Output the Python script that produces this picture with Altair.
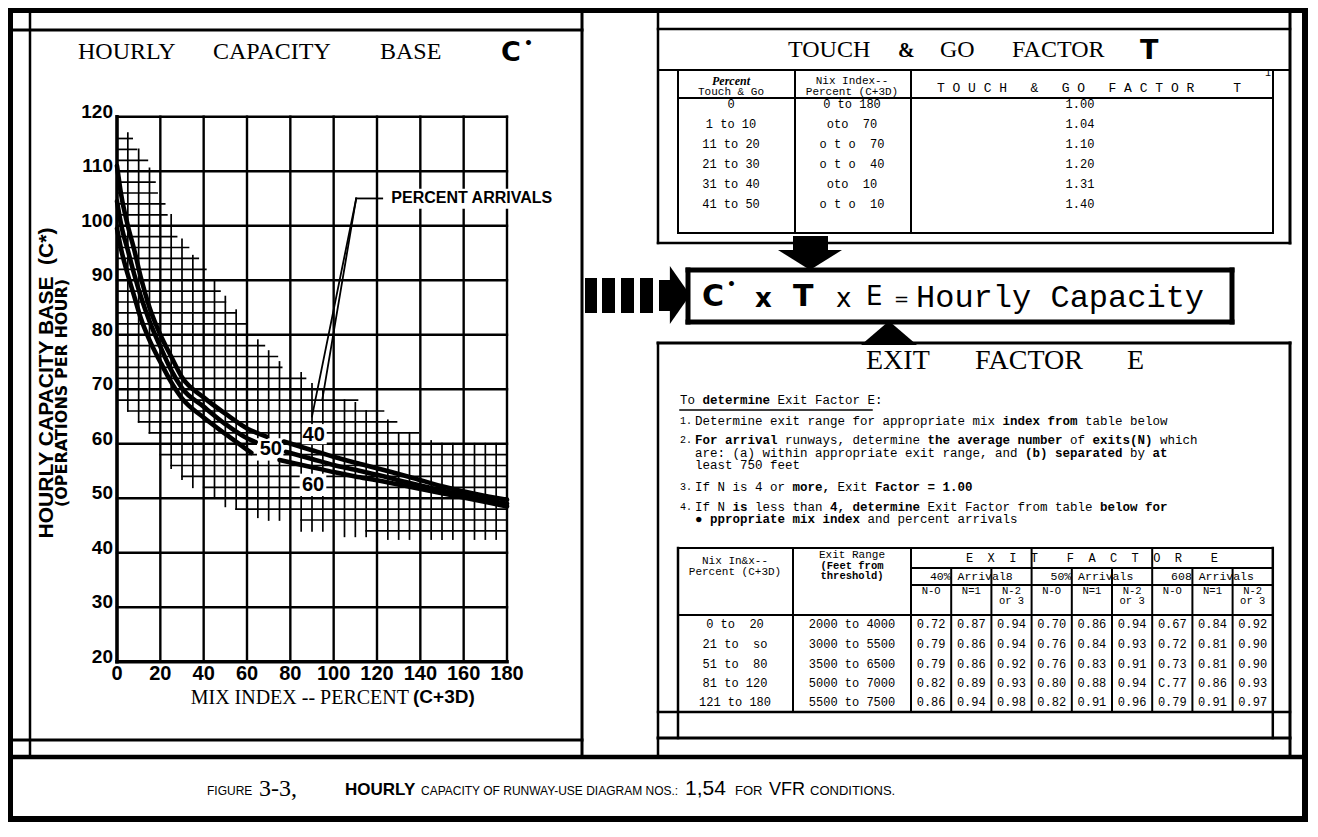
import altair as alt
import pandas as pd

NB = "\u00a0"

# ====================== values ======================
mix_ticks = [0, 20, 40, 60, 80, 100, 120, 140, 160, 180]
cap_ticks = [20, 30, 40, 50, 60, 70, 80, 90, 100, 110, 120]

# percent-arrival curves: hourly capacity base C* against mix index (C+3D)
a40_left_mix = [0, 2, 5, 8, 11, 15, 20, 25, 30, 40, 50, 60, 69]
a40_left_cap = [111, 105.5, 100, 95.5, 90.5, 85, 80, 76, 72.2, 68.5, 65.5, 62.8, 61.3]
a50_left_mix = [0, 2, 5, 8, 11, 15, 20, 25, 30, 40, 50, 60, 64]
a50_left_cap = [104.5, 100, 95.5, 91, 87, 82.5, 77.8, 73.5, 70.2, 66.8, 63.6, 61.0, 60.3]
a60_left_mix = [0, 2, 5, 8, 11, 15, 20, 25, 30, 40, 50, 62]
a60_left_cap = [99.5, 95.5, 91, 87, 83, 79, 75, 71.3, 68.3, 64.8, 61.8, 58.3]
a40_right_mix = [77, 90, 100, 110, 120, 135, 150, 165, 180]
a40_right_cap = [60.4, 58.8, 57.6, 56.5, 55.5, 53.9, 52.2, 50.8, 49.7]
a50_right_mix = [78, 90, 100, 110, 120, 135, 150, 165, 180]
a50_right_cap = [58.5, 57.2, 56.1, 55.2, 54.3, 52.8, 51.4, 50.1, 49.0]
a60_right_mix = [75, 90, 100, 110, 120, 135, 150, 165, 180]
a60_right_cap = [57.0, 55.7, 54.8, 54.0, 53.3, 52.1, 50.9, 49.7, 48.5]

curve_label_text = ["40", "50", "60"]
curve_label_mix = [90.8, 71.0, 90.5]
curve_label_cap = [61.6, 59.0, 52.4]

# cross-hatched band (fine grid: every 2 units of C*, every 5 of mix index)
hatch_row_cap = [116, 114, 112, 108, 106, 104, 102, 98, 96, 94, 92, 88, 86, 84, 82,
                 78, 76, 74, 72, 68, 66, 64, 62, 58, 56, 54, 52, 48, 46, 44]
hatch_row_from = [0, 0, 0, 0, 0, 0, 0, 0, 0, 0, 0, 0, 0, 0, 0,
                  0, 0, 0, 0, 0, 5, 10, 15, 20, 25, 30, 40, 55, 85, 115]
hatch_row_to = [7, 9, 14, 17.5, 18.5, 22, 23, 27.5, 33, 37.5, 41, 47.5, 50, 55, 60,
                68, 74, 76, 87, 111, 123, 129, 139, 180, 180, 180, 180, 180, 180, 180]
hatch_col_mix = [5, 10, 15, 25, 30, 35, 45, 50, 55, 65, 70, 75, 85, 90, 95,
                 105, 110, 115, 125, 130, 135, 145, 150, 155, 165, 170, 175]
hatch_col_high = [117, 114, 110.5, 102, 97.5, 94.5, 90, 87, 84.5, 79, 77, 75, 73, 71, 70,
                  68, 67.5, 66, 64.3, 62, 62, 60.5, 60, 60, 60, 60, 60]
hatch_col_low = [66, 64, 62, 55.5, 53.5, 52, 50, 48.5, 48, 46.5, 46, 46, 44, 44, 44,
                 43, 43, 43, 42.5, 42.5, 42.5, 42.5, 42.5, 42.5, 42.5, 42.5, 42.5]

# touch & go factor table
tg_percent = ["0", "1 to 10", "11 to 20", "21 to 30", "31 to 40", "41 to 50"]
tg_mix_range = ["0 to 180", "oto  70", "o t o  70", "o t o  40", "oto  10", "o t o  10"]
tg_factor = ["1.00", "1.04", "1.10", "1.20", "1.31", "1.40"]

# exit factor table
exit_mix_range = ["0 to  20", "21 to  so", "51 to  80", "81 to 120", "121 to 180"]
exit_feet = ["2000 to 4000", "3000 to 5500", "3500 to 6500", "5000 to 7000", "5500 to 7500"]
ef_40_n0 = ["0.72", "0.79", "0.79", "0.82", "0.86"]
ef_40_n1 = ["0.87", "0.86", "0.86", "0.89", "0.94"]
ef_40_n2 = ["0.94", "0.94", "0.92", "0.93", "0.98"]
ef_50_n0 = ["0.70", "0.76", "0.76", "0.80", "0.82"]
ef_50_n1 = ["0.86", "0.84", "0.83", "0.88", "0.91"]
ef_50_n2 = ["0.94", "0.93", "0.91", "0.94", "0.96"]
ef_60_n0 = ["0.67", "0.72", "0.73", "C.77", "0.79"]
ef_60_n1 = ["0.84", "0.81", "0.81", "0.86", "0.91"]
ef_60_n2 = ["0.92", "0.90", "0.90", "0.93", "0.97"]
ef_groups = ["40% Arrival8", "50% Arrivals", "608 Arrivals"]
ef_sub = ["N-O", "N=1", "N-2"]

# instructions: (number, text, words printed in bold)
instructions = [
    ("1.", "Determine exit range for appropriate mix index from table below", ["index from"]),
    ("2.", "For arrival runways, determine the average number of exits(N) which",
     ["For arrival", "the average number", "exits(N)"]),
    ("", "are: (a) within appropriate exit range, and (b) separated by at", ["(b) separated", " at"]),
    ("", "least 750 feet", []),
    ("3.", "If N is 4 or more, Exit Factor = 1.00", ["more,", "Factor = 1.00"]),
    ("4.", "If N is less than 4, determine Exit Factor from table below for", [" is ", "4, determine", "below for"]),
    ("", "\u25cf ppropriate mix index and percent arrivals", ["ppropriate mix index"]),
]
heading = ("To determine Exit Factor E:", ["determine"])

# ====================== layout ======================
W, H = 1300, 814
PX = alt.Scale(domain=[8, 8 + W], range=[0, W], nice=False, zero=False)
PY = alt.Scale(domain=[8, 8 + H], range=[0, H], nice=False, zero=False)
SX = alt.Scale(domain=[0, 180], range=[117 - 8, 507 - 8], nice=False, zero=False)
SY = alt.Scale(domain=[20, 120], range=[661.7 - 8, 116.7 - 8], nice=False, zero=False)

NARROW = "Liberation Sans Narrow, Liberation Sans, Arial, sans-serif"
SERIF = "Liberation Serif, DejaVu Serif, serif"
MONO = "Liberation Mono, DejaVu Sans Mono, monospace"
SANS = "DejaVu Sans, Liberation Sans, sans-serif"
MONO_ADV = 0.6  # advance width of Liberation Mono, in em


def keep_spaces(s):
    # SVG collapses runs of spaces: keep the typewriter spacing with no-break spaces
    return s.replace("  ", " " + NB)


def runs(s, words):
    # split a monospace line into regular / bold runs with their character offsets
    mask = [False] * len(s)
    for w in words:
        i = s.find(w)
        if i >= 0:
            for k in range(i, i + len(w)):
                mask[k] = True
    out, i = [], 0
    while i < len(s):
        j = i
        while j < len(s) and mask[j] == mask[i]:
            j += 1
        seg = s[i:j]
        lead = len(seg) - len(seg.lstrip(" "))
        if seg.strip(" "):
            out.append((i + lead, seg.strip(" "), mask[i]))
        i = j
    return out


def rules(rows, plot=False, color="black"):
    df = pd.DataFrame(rows, columns=["x", "y", "x2", "y2", "w"])
    sx, sy = (SX, SY) if plot else (PX, PY)
    return alt.Chart(df).mark_rule(color=color, strokeCap="square").encode(
        x=alt.X("x:Q", scale=sx, axis=None), y=alt.Y("y:Q", scale=sy, axis=None),
        x2="x2:Q", y2="y2:Q", strokeWidth=alt.StrokeWidth("w:Q", scale=None, legend=None))


def rects(rows, plot=False, color="black"):
    df = pd.DataFrame(rows, columns=["x", "x2", "y", "y2"])
    sx, sy = (SX, SY) if plot else (PX, PY)
    return alt.Chart(df).mark_rect(color=color).encode(
        x=alt.X("x:Q", scale=sx, axis=None), x2="x2:Q",
        y=alt.Y("y:Q", scale=sy, axis=None), y2="y2:Q")


def arrowhead(cx, cy, path, side):
    df = pd.DataFrame([{"x": cx, "y": cy}])
    return alt.Chart(df).mark_point(shape=path, size=side * side, filled=True, color="black",
                                    opacity=1, strokeWidth=0).encode(
        x=alt.X("x:Q", scale=PX, axis=None), y=alt.Y("y:Q", scale=PY, axis=None))


def texts(rows, font, size, weight="normal", style="normal", align="left",
          baseline="middle", angle=0, plot=False, dx=0, dy=0):
    df = pd.DataFrame([(x, y, keep_spaces(t)) for x, y, t in rows], columns=["x", "y", "t"])
    sx, sy = (SX, SY) if plot else (PX, PY)
    return alt.Chart(df).mark_text(font=font, fontSize=size, fontWeight=weight, fontStyle=style,
                                   align=align, baseline=baseline, angle=angle, dx=dx, dy=dy,
                                   color="black").encode(
        x=alt.X("x:Q", scale=sx, axis=None), y=alt.Y("y:Q", scale=sy, axis=None), text="t:N")


# ---------------- plot group (data units) ----------------
plot_layers = []
plot_layers.append(rules([(f, c, t, c, 1.7) for c, f, t in zip(hatch_row_cap, hatch_row_from, hatch_row_to)], plot=True))
plot_layers.append(rules([(m, lo, m, hi, 1.7) for m, lo, hi in zip(hatch_col_mix, hatch_col_low, hatch_col_high)], plot=True))
grid = [(m, cap_ticks[0], m, cap_ticks[-1], 2.4) for m in mix_ticks] + \
       [(mix_ticks[0], c, mix_ticks[-1], c, 2.4) for c in cap_ticks] + \
       [(0, 20, 0, 120, 3.5), (0, 20, 180, 20, 3.5)]
plot_layers.append(rules(grid, plot=True))
# white patches behind printed labels
plot_layers.append(rects([(85.3, 96.8, 59.9, 63.6), (64.6, 76.8, 56.9, 61.0),
                          (84.3, 96.6, 50.4, 54.5), (124.8, 205, 103.1, 106.8)], plot=True, color="white"))

curve_rows = []
for pct, segs in [("40", [(a40_left_mix, a40_left_cap), (a40_right_mix, a40_right_cap)]),
                  ("50", [(a50_left_mix, a50_left_cap), (a50_right_mix, a50_right_cap)]),
                  ("60", [(a60_left_mix, a60_left_cap), (a60_right_mix, a60_right_cap)])]:
    for si, (xs, ys) in enumerate(segs):
        for xv, yv in zip(xs, ys):
            curve_rows.append({"seg": f"{pct}-{si}", "mix": xv, "cap": yv})
plot_layers.append(alt.Chart(pd.DataFrame(curve_rows)).mark_line(
    color="black", strokeWidth=4.6, interpolate="monotone", strokeCap="round").encode(
    x=alt.X("mix:Q", scale=SX, axis=None), y=alt.Y("cap:Q", scale=SY, axis=None),
    detail="seg:N", order="mix:Q"))

plot_layers.append(texts(list(zip(curve_label_mix, curve_label_cap, curve_label_text)),
                         NARROW, 20, weight="bold", align="center", plot=True))
plot_layers.append(rules([(110.4, 105, 90.0, 65.0, 1.8), (110.4, 105, 94.8, 68.2, 1.8),
                          (110.4, 105, 122.4, 105, 1.8)], plot=True))
plot_layers.append(texts([(126.6, 105, "PERCENT ARRIVALS")], NARROW, 16, weight="bold", plot=True))
plot_layers.append(texts([(m, 20, str(m)) for m in mix_ticks], NARROW, 20, weight="bold",
                         align="center", baseline="top", plot=True, dy=2))
plot_layers.append(texts([(0, c, str(c)) for c in cap_ticks], NARROW, 19, weight="bold",
                         align="right", baseline="alphabetic", plot=True, dx=-4, dy=1))

# ---------------- page group (pixel layout) ----------------
page_layers = []
exit_seps = [911, 951.2, 991.4, 1031.6, 1071.8, 1112, 1152.2, 1192.4, 1232.6, 1272.8]
exit_centers = [(a + b) / 2 for a, b in zip(exit_seps[:-1], exit_seps[1:])]
frame = [
    (5, 10.5, 1313, 10.5, 5), (10.5, 5, 10.5, 830, 5), (1305, 5, 1305, 830, 6),
    (5, 819, 1313, 819, 6), (5, 757, 1313, 757, 4.5),
    (30, 13, 30, 757, 2.5), (582, 13, 582, 757, 3), (13, 30, 582, 30, 3), (13, 740, 582, 740, 3),
    (658, 13, 658, 243, 2.5), (1290, 13, 1290, 243, 3), (658, 29, 1290, 29, 2.5),
    (658, 70, 1290, 70, 2), (678, 98, 1273, 98, 2), (678, 233, 1273, 233, 2), (658, 243, 1290, 243, 2.5),
    (678, 70, 678, 233, 2), (795, 70, 795, 233, 2), (911, 70, 911, 233, 2), (1273, 70, 1273, 233, 2),
    (658, 343, 658, 757, 2.5), (1290, 343, 1290, 757, 3), (658, 343, 1290, 343, 3), (658, 738, 1290, 738, 3),
    (678, 548, 1273, 548, 2), (911, 568, 1273, 568, 2), (911, 585, 1273, 585, 2), (678, 615, 1273, 615, 2),
    (658, 712, 1290, 712, 2.5), (678, 548, 678, 738, 2.5), (793, 548, 793, 712, 2), (911, 548, 911, 712, 2),
    (1031.6, 548, 1031.6, 712, 2), (1152.2, 548, 1152.2, 712, 2), (1272.8, 548, 1272.8, 738, 2.5),
    (680, 410, 872, 410, 1.5),
    # formula box
    (688, 270, 1232, 270, 5), (688, 322, 1232, 322, 5), (688, 270, 688, 322, 5), (1232, 270, 1232, 322, 5),
]
frame += [(s, 568, s, 712, 2) for s in exit_seps if s not in (911, 1031.6, 1152.2, 1272.8)]
page_layers.append(rules(frame))
page_layers.append(rects([(585, 597, 278, 313), (602, 615, 278, 313), (621, 634, 278, 313),
                          (640, 653, 278, 313), (659, 672, 280, 311), (793, 828, 236, 252)]))
# arrow heads: down into the formula box, up from the exit panel, right from the C* panel
page_layers.append(arrowhead(810, 260, "M-1,-0.3125L1,-0.3125L0,0.3125Z", 64))
page_layers.append(arrowhead(889, 333, "M-1,0.43L1,0.43L0,-0.43Z", 56))
page_layers.append(arrowhead(680, 295, "M-0.35,-1L0.35,0L-0.35,1Z", 58))

# left panel titles
page_layers.append(texts([(78, 52, "HOURLY"), (213, 52, "CAPACITY"), (380, 52, "BASE")], SERIF, 24))
page_layers.append(texts([(501, 53, "C")], SANS, 27, weight="bold"))
page_layers.append(texts([(524, 44, "\u2022")], SANS, 14, weight="bold"))
page_layers.append(texts([(47, 383, "HOURLY CAPACITY BASE  (C*)")], NARROW, 21, weight="bold",
                         align="center", angle=270))
page_layers.append(texts([(62, 393, "(OPERATIONS PER HOUR)")], SANS, 16, weight="bold",
                         align="center", angle=270))
page_layers.append(texts([(409, 698, "MIX INDEX -- PERCENT")], SERIF, 20, align="right"))
page_layers.append(texts([(413, 697, "(C+3D)")], NARROW, 19, weight="bold"))

# touch & go panel
page_layers.append(texts([(788, 50, "TOUCH"), (940, 50, "GO"), (1012, 50, "FACTOR")], SERIF, 24))
page_layers.append(texts([(898, 51, "&")], SERIF, 20, weight="bold"))
page_layers.append(texts([(1140, 51, "T")], SANS, 27, weight="bold"))
page_layers.append(texts([(731, 81, "Percent")], SERIF, 12, weight="bold", style="italic", align="center"))
page_layers.append(texts([(731, 92, "Touch & Go"), (852, 81, "Nix Index--"), (852, 92, "Percent (C+3D)")],
                         MONO, 11, align="center"))
page_layers.append(texts([(1089, 88, "T O U C H   &   G O   F A C T O R     T")], MONO, 13, align="center"))
page_layers.append(texts([(1268, 73, "1")], MONO, 10, align="center"))
tg_y = [104, 124, 144, 164, 184, 204]
page_layers.append(texts([(731, y, t) for y, t in zip(tg_y, tg_percent)] +
                         [(852, y, t) for y, t in zip(tg_y, tg_mix_range)] +
                         [(1080, y, t) for y, t in zip(tg_y, tg_factor)], MONO, 12, align="center"))

# formula box
page_layers.append(texts([(702, 297, "C"), (793, 297, "T")], SANS, 30, weight="bold"))
page_layers.append(texts([(727, 285, "\u2022")], SANS, 14, weight="bold"))
page_layers.append(texts([(755, 299, "x")], SANS, 26, weight="bold"))
page_layers.append(texts([(836, 299, "x"), (866, 297, "E")], SANS, 26))
page_layers.append(texts([(894, 300, "=")], SANS, 18))
page_layers.append(texts([(916, 297, "Hourly Capacity")], MONO, 32))

# exit factor panel
page_layers.append(texts([(866, 361, "EXIT"), (975, 361, "FACTOR"), (1127, 361, "E")], SERIF, 28))
FS = 12.5
CW = FS * MONO_ADV
reg_rows, bold_rows = [], []
lines = [(680, 400, heading[0], heading[1])]
ins_y = [421, 440, 452.5, 465, 487, 506.5, 519]
for y, (_, s, bw) in zip(ins_y, instructions):
    lines.append((695, y, s, bw))
for x0, y, s, bw in lines:
    for idx, t, b in runs(s, bw):
        (bold_rows if b else reg_rows).append((x0 + idx * CW, y, t))
page_layers.append(texts(reg_rows, MONO, FS))
page_layers.append(texts(bold_rows, MONO, FS, weight="bold"))
page_layers.append(texts([(680, y, n) for y, (n, _, _) in zip(ins_y, instructions) if n], MONO, 10))

page_layers.append(texts([(735, 561, "Nix In&x--"), (735, 572, "Percent (C+3D)"),
                          (852, 555, "Exit Range")], MONO, 11, align="center"))
page_layers.append(texts([(852, 566, "(Feet from"), (852, 576, "threshold)")], MONO, 10.5,
                         weight="bold", align="center"))
page_layers.append(texts([(1092, 558, "E  X  I  T    F  A  C  T  O  R    E")], MONO, 12, align="center"))
grp_c = [(exit_seps[0] + exit_seps[3]) / 2, (exit_seps[3] + exit_seps[6]) / 2, (exit_seps[6] + exit_seps[9]) / 2]
page_layers.append(texts([(c, 577, g) for c, g in zip(grp_c, ef_groups)], MONO, 11.5, align="center"))
page_layers.append(texts([(exit_centers[i], 591, ef_sub[i % 3]) for i in range(9)] +
                         [(exit_centers[i], 601, "or 3") for i in (2, 5, 8)], MONO, 10.5, align="center"))
ex_y = [624, 644, 664, 683, 702]
cols = [ef_40_n0, ef_40_n1, ef_40_n2, ef_50_n0, ef_50_n1, ef_50_n2, ef_60_n0, ef_60_n1, ef_60_n2]
cells = [(735, y, t) for y, t in zip(ex_y, exit_mix_range)] + \
        [(852, y, t) for y, t in zip(ex_y, exit_feet)]
for ci, col in enumerate(cols):
    cells += [(exit_centers[ci], y, t) for y, t in zip(ex_y, col)]
page_layers.append(texts(cells, MONO, 12, align="center"))

# caption
page_layers.append(texts([(207, 791, "FIGURE")], NARROW, 12))
page_layers.append(texts([(259, 789, "3-3,")], SERIF, 24))
page_layers.append(texts([(345, 790, "HOURLY")], NARROW, 17, weight="bold"))
page_layers.append(texts([(421, 791, "CAPACITY OF RUNWAY-USE DIAGRAM NOS.:")], NARROW, 12))
page_layers.append(texts([(735, 791, "FOR"), (810, 791, "CONDITIONS.")], NARROW, 13))
page_layers.append(texts([(685, 789, "1,54")], NARROW, 21))
page_layers.append(texts([(769, 790, "VFR")], NARROW, 18))

chart = alt.layer(alt.layer(*page_layers), alt.layer(*plot_layers)).resolve_scale(
    x="independent", y="independent").properties(
    width=W, height=H, padding=0, background="white",
    autosize=alt.AutoSizeParams(type="none")).configure_view(stroke=None)

chart.save("out.html", embed_options={"renderer": "svg", "actions": False})
